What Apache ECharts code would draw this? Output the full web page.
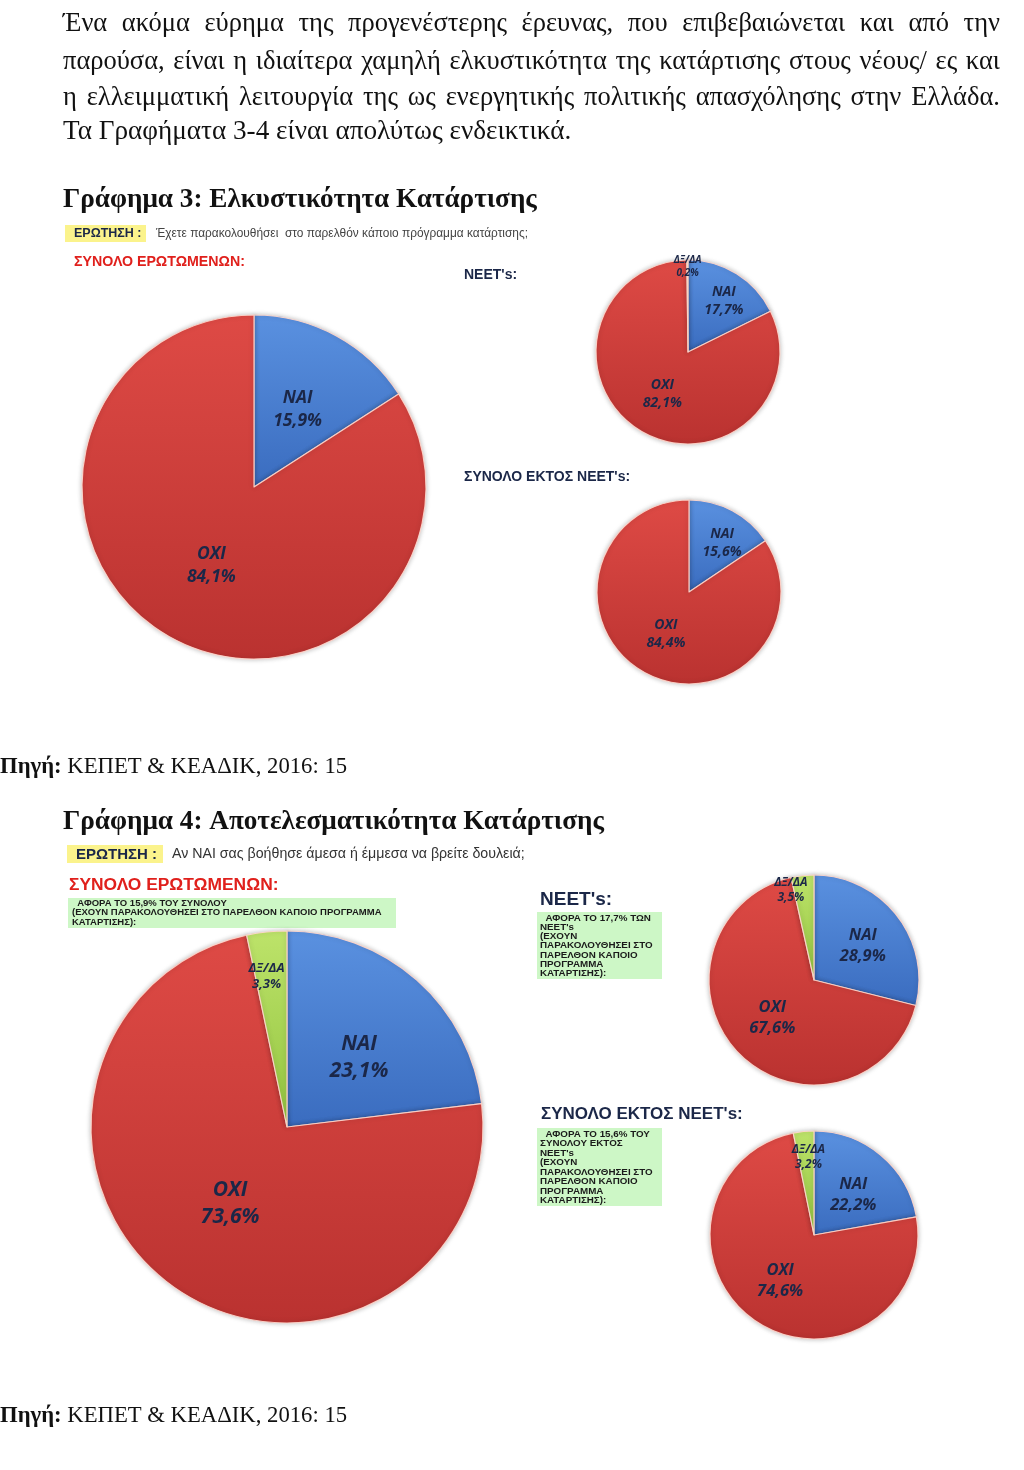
<!DOCTYPE html>
<html>
<head>
<meta charset="utf-8">
<script src="https://cdn.jsdelivr.net/npm/echarts@6/dist/echarts.min.js"></script>
<style>
  html, body { margin: 0; padding: 0; background: #fff; }
  #wrap { position: relative; width: 1024px; height: 1470px; overflow: hidden; }
  #chart { position: absolute; left: 0; top: 0; width: 1024px; height: 1470px; }
  .para { position: absolute; left: 63px; width: 937px; font-family: 'Liberation Serif', 'DejaVu Serif', serif; font-size: 26.5px; color: #111; line-height: 36px; white-space: nowrap; }
  .just { text-align: justify; text-align-last: justify; }
</style>
</head>
<body>
<div id="wrap">
  <div id="chart"></div>
  <div class="para just" style="top:4px">Ένα ακόμα εύρημα της προγενέστερης έρευνας, που επιβεβαιώνεται και από την</div>
  <div class="para just" style="top:42px">παρούσα, είναι η ιδιαίτερα χαμηλή ελκυστικότητα της κατάρτισης στους νέους/ ες και</div>
  <div class="para just" style="top:78px">η ελλειμματική λειτουργία της ως ενεργητικής πολιτικής απασχόλησης στην Ελλάδα.</div>
  <div class="para" style="top:112px; font-size:27.2px">Τα Γραφήματα 3-4 είναι απολύτως ενδεικτικά.</div>
</div>
<script>
// ---- data ----
const sliceNames = ['ΝΑΙ', 'ΟΧΙ', 'ΔΞ/ΔΑ'];
const g3Total = [15.9, 84.1];
const g3Neet = [17.7, 82.1, 0.2];
const g3NonNeet = [15.6, 84.4];
const g4Total = [23.1, 73.6, 3.3];
const g4Neet = [28.9, 67.6, 3.5];
const g4NonNeet = [22.2, 74.6, 3.2];
const neetBoxLines = ['  ΑΦΟΡΑ ΤΟ 17,7% ΤΩΝ', "NEET's", '(ΕΧΟΥΝ', 'ΠΑΡΑΚΟΛΟΥΘΗΣΕΙ ΣΤΟ', 'ΠΑΡΕΛΘΟΝ ΚΑΠΟΙΟ', 'ΠΡΟΓΡΑΜΜΑ', 'ΚΑΤΑΡΤΙΣΗΣ):'];
const nonNeetBoxLines = ['  ΑΦΟΡΑ ΤΟ 15,6% ΤΟΥ', 'ΣΥΝΟΛΟΥ ΕΚΤΟΣ', "NEET's", '(ΕΧΟΥΝ', 'ΠΑΡΑΚΟΛΟΥΘΗΣΕΙ ΣΤΟ', 'ΠΑΡΕΛΘΟΝ ΚΑΠΟΙΟ', 'ΠΡΟΓΡΑΜΜΑ', 'ΚΑΤΑΡΤΙΣΗΣ):'];
const totalBoxLines = ['  ΑΦΟΡΑ ΤΟ 15,9% ΤΟΥ ΣΥΝΟΛΟΥ', '(ΕΧΟΥΝ ΠΑΡΑΚΟΛΟΥΘΗΣΕΙ ΣΤΟ ΠΑΡΕΛΘΟΝ ΚΑΠΟΙΟ ΠΡΟΓΡΑΜΜΑ', 'ΚΑΤΑΡΤΙΣΗΣ):'];

// ---- styles ----
const grad = (c1, c2) => new echarts.graphic.LinearGradient(0, 0, 0, 1, [{offset: 0, color: c1}, {offset: 1, color: c2}]);
const sliceColors = [grad('#5a91e0', '#3a6cbf'), grad('#de4a45', '#ba3230'), grad('#bde36a', '#93c440')];
const navy = '#1b2748';
const labelFont = "'Open Sans', 'DejaVu Sans', sans-serif";

function makePie(values, center, radius, fontSize, smallFont, offsets) {
  return {
    type: 'pie',
    center: center,
    radius: [0, radius],
    startAngle: 90,
    clockwise: true,
    avoidLabelOverlap: false,
    silent: true,
    animation: false,
    itemStyle: { borderColor: 'rgba(255,215,205,0.9)', borderWidth: 1.2, shadowBlur: 5, shadowColor: 'rgba(0,0,0,0.25)' },
    label: {
      show: true,
      position: 'inside',
      fontFamily: labelFont,
      fontStyle: 'italic',
      fontWeight: 'bold',
      color: navy,
      lineHeight: Math.round(fontSize * 1.3),
      fontSize: fontSize,
      formatter: p => p.name + '\n' + String(p.value).replace('.', ',') + '%'
    },
    labelLine: { show: false },
    labelLayout: function (params) {
      const o = offsets[params.dataIndex] || [0, 0];
      return { dx: o[0], dy: o[1] };
    },
    data: values.map((v, i) => ({
      name: sliceNames[i],
      value: v,
      itemStyle: { color: sliceColors[i] },
      label: i === 2 ? { fontSize: smallFont, lineHeight: Math.round(smallFont * 1.25) } : undefined
    }))
  };
}

function t(x, y, text, font, fill, extraStyle) {
  return {
    type: 'text', x: x, y: y, silent: true,
    style: Object.assign({ text: text, font: font, fill: fill, verticalAlign: 'middle', align: 'left' }, extraStyle || {})
  };
}
function rect(x, y, w, h, fill) {
  return { type: 'rect', silent: true, shape: { x: x, y: y, width: w, height: h }, style: { fill: fill } };
}
function box(x, firstCenterY, lines, size, lh) {
  return { type: 'text', x: x, y: firstCenterY - lh / 2, silent: true,
    style: { text: lines.join('\n'), font: 'bold ' + size + 'px ' + sans, fill: '#1a1a1a', lineHeight: lh, verticalAlign: 'top' } };
}

const serif = "'Liberation Serif', 'DejaVu Serif', serif";
const sans = "'Liberation Sans', Arial, sans-serif";

function source(y) {
  return {
    type: 'text', x: 0, y: y, silent: true,
    style: {
      text: '{b|Πηγή:} ΚΕΠΕΤ & ΚΕΑΔΙΚ, 2016: 15', font: '22.7px ' + serif, fill: '#111', verticalAlign: 'middle',
      rich: { b: { font: 'bold 22.7px ' + serif, fill: '#111' } }
    }
  };
}

const graphics = [
  // Graph 3 header
  t(63, 200, 'Γράφημα 3: Ελκυστικότητα Κατάρτισης', 'bold 27.2px ' + serif, '#111'),
  rect(65, 225, 81, 17, '#fbf38c'),
  t(74, 233.5, 'ΕΡΩΤΗΣΗ :', 'bold 12.5px ' + sans, navy),
  t(156, 233.5, 'Έχετε παρακολουθήσει  στο παρελθόν κάποιο πρόγραμμα κατάρτισης;', '11.9px ' + sans, '#444'),
  t(74, 262, 'ΣΥΝΟΛΟ ΕΡΩΤΩΜΕΝΩΝ:', 'bold 14.2px ' + sans, '#e0201c'),
  t(464, 275, "NEET's:", 'bold 14px ' + sans, navy),
  t(464, 477, "ΣΥΝΟΛΟ ΕΚΤΟΣ NEET's:", 'bold 14px ' + sans, navy),
  source(767),
  // Graph 4 header
  t(63, 822, 'Γράφημα 4: Αποτελεσματικότητα Κατάρτισης', 'bold 27.2px ' + serif, '#111'),
  rect(67, 845, 96, 18, '#fbf38c'),
  t(76, 854.5, 'ΕΡΩΤΗΣΗ :', 'bold 15px ' + sans, navy),
  t(172, 854.5, 'Αν ΝΑΙ σας βοήθησε άμεσα ή έμμεσα να βρείτε δουλειά;', '14.2px ' + sans, '#333'),
  t(69, 885, 'ΣΥΝΟΛΟ ΕΡΩΤΩΜΕΝΩΝ:', 'bold 17.4px ' + sans, '#e0201c'),
  rect(68, 898, 328, 30, '#cdf7c6'),
  box(72, 903, totalBoxLines, 9.5, 9.5),
  t(540, 900, "NEET's:", 'bold 19px ' + sans, navy),
  rect(537, 912, 125, 67, '#cdf7c6'),
  box(540, 918, neetBoxLines, 9.8, 9.2),
  t(541, 1114, "ΣΥΝΟΛΟ ΕΚΤΟΣ NEET's:", 'bold 17px ' + sans, navy),
  rect(537, 1128, 125, 78, '#cdf7c6'),
  box(540, 1134, nonNeetBoxLines, 9.8, 9.5),
  source(1416)
];

const chart = echarts.init(document.getElementById('chart'), null, { renderer: 'canvas', width: 1024, height: 1470 });
chart.setOption({
  backgroundColor: 'transparent',
  animation: false,
  graphic: graphics,
  series: [
    makePie(g3Total, [254, 487], 172, 17.5, 9, [[1, 1], [0, 0]]),
    makePie(g3Neet, [688, 352], 92, 14, 10, [[10, -9], [0, 0], [0, -36]]),
    makePie(g3NonNeet, [689, 592], 92, 14, 10, [[10, -6], [0, -1]]),
    makePie(g4Total, [287, 1127], 196, 21, 13, [[5, 6], [2, -6], [-10, -50]]),
    makePie(g4Neet, [814, 980], 105, 16.5, 12, [[5, 0], [-2, -1], [-17, -35]]),
    makePie(g4NonNeet, [814, 1235], 104, 16.5, 12, [[4, 2], [-3, 0], [0, -23]])
  ]
});
</script>
</body>
</html>
